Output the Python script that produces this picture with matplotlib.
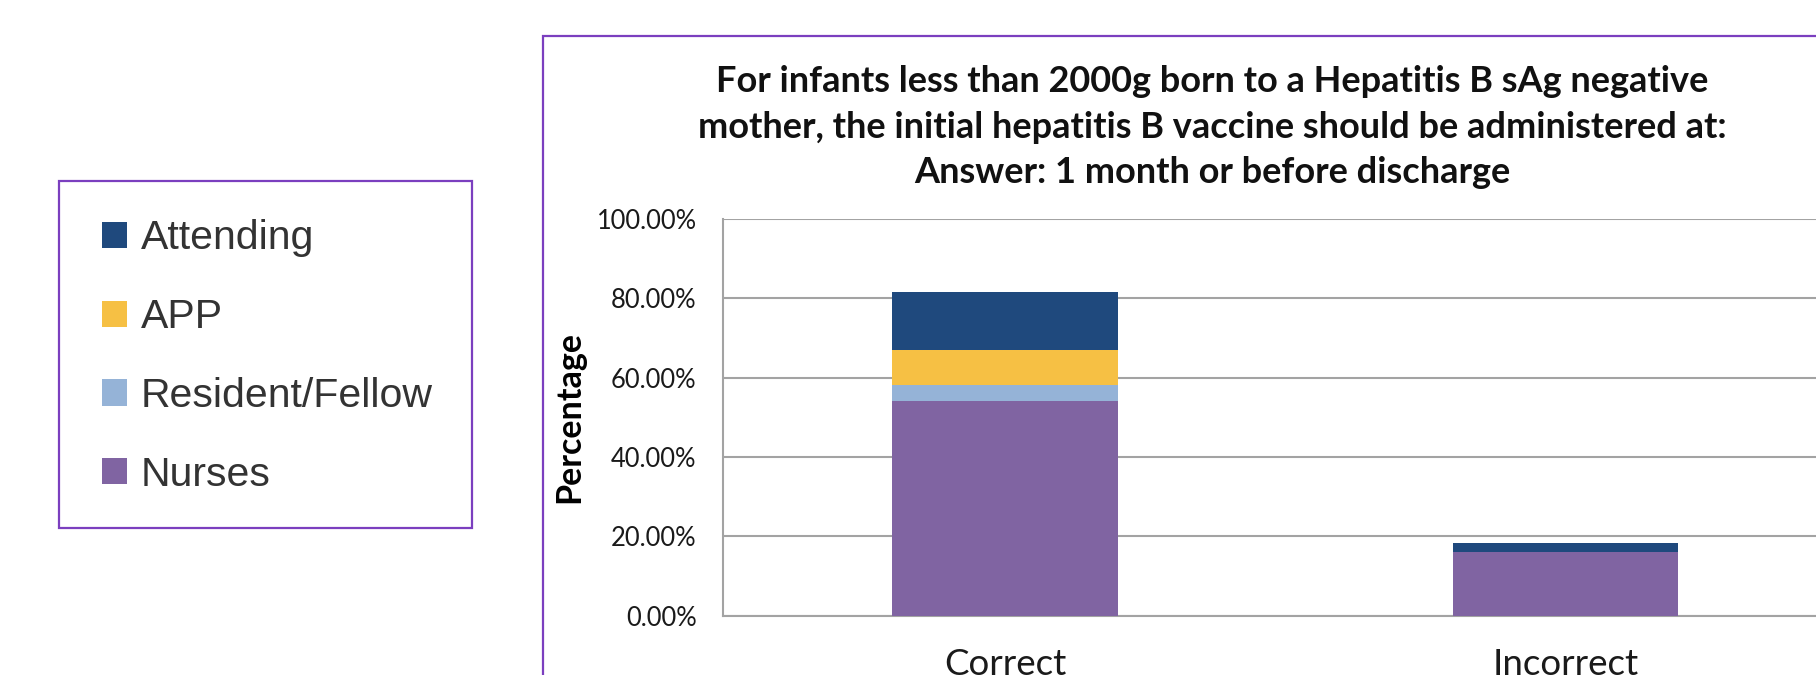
import matplotlib
matplotlib.use("Agg")
import matplotlib.pyplot as plt
from matplotlib.patches import Rectangle, Patch
from matplotlib.ticker import FuncFormatter, MultipleLocator

# Survey responses, percent of all respondents
categories = ["Correct", "Incorrect"]
nurses = [54.2, 16.0]
resident_fellow = [3.9, 0.0]
app = [9.0, 0.0]
attending = [14.6, 2.3]

series_names = ["Nurses", "Resident/Fellow", "APP", "Attending"]
series_values = [nurses, resident_fellow, app, attending]
series_colors = ["#8064A2", "#95B3D7", "#F6C044", "#1F497D"]

title_lines = [
    "For infants less than 2000g born to a Hepatitis B sAg negative",
    "mother, the initial hepatitis B vaccine should be administered at:",
    "Answer: 1 month or before discharge",
]

W, H = 1816, 675
fig = plt.figure(figsize=(W / 100, H / 100), dpi=100)
fig.patch.set_facecolor("white")


def fx(px):
    return px / W


def fy(py):
    return 1 - py / H


purple = "#7B3FBF"
grid_gray = "#A3A3A3"

# chart frame
fig.add_artist(Rectangle((fx(543), fy(690)), fx(1300), fy(36) - fy(690),
                         transform=fig.transFigure, fill=False,
                         edgecolor=purple, linewidth=1.6))

# plot area
ax_left, ax_right, ax_top, ax_bottom = 723, 1816, 219, 615.7
ax = fig.add_axes([fx(ax_left), fy(ax_bottom),
                   fx(ax_right - ax_left), fy(ax_top) - fy(ax_bottom)])

x = list(range(len(categories)))
bottom = [0.0] * len(categories)
for name, vals, color in zip(series_names, series_values, series_colors):
    ax.bar(x, vals, width=0.403, bottom=bottom, color=color, label=name,
           edgecolor="none", zorder=3)
    bottom = [b + v for b, v in zip(bottom, vals)]

ax.set_xlim(-0.503, 1.447)
ax.set_ylim(0, 100)
ax.yaxis.set_major_locator(MultipleLocator(20))
ax.yaxis.set_major_formatter(FuncFormatter(lambda v, _: f"{v:.2f}%"))
ax.grid(axis="y", color=grid_gray, linewidth=1.5, zorder=0)
ax.set_axisbelow(True)
for side in ["top", "right"]:
    ax.spines[side].set_visible(False)
for side in ["left", "bottom"]:
    ax.spines[side].set_color(grid_gray)
    ax.spines[side].set_linewidth(1.5)
ax.tick_params(axis="both", length=0)
ax.tick_params(axis="y", pad=19, labelsize=18.4, labelcolor="#1a1a1a")
ax.tick_params(axis="x", pad=23, labelsize=26.5, labelcolor="#1a1a1a")
ax.set_xticks(x)
ax.set_xticklabels(categories)
for lbl in ax.get_yticklabels() + ax.get_xticklabels():
    lbl.set_fontfamily("Lato")

ax.set_ylabel("Percentage", fontsize=24.5, fontweight="bold", family="Lato",
              labelpad=0)
ax.yaxis.set_label_coords(fx(585 - ax_left) / fx(ax_right - ax_left), 0.5)

fig.text(fx(1212), fy(127), "\n".join(title_lines), ha="center", va="center",
         fontsize=26, fontweight="bold", family="Lato", linespacing=1.48,
         color="#111111")

# legend box
fig.add_artist(Rectangle((fx(59), fy(528)), fx(472 - 59), fy(181) - fy(528),
                         transform=fig.transFigure, fill=False,
                         edgecolor=purple, linewidth=1.6))
handles = [Patch(facecolor=c, edgecolor="none", label=n)
           for n, c in zip(series_names[::-1], series_colors[::-1])]
fig.legend(handles=handles, loc="upper left",
           bbox_to_anchor=(fx(102), fy(219)), frameon=False,
           prop={"family": "Liberation Sans", "size": 29.5},
           labelcolor="#333333", handlelength=0.6, handleheight=0.6,
           handletextpad=0.35, labelspacing=1.0, borderaxespad=0,
           borderpad=0)

fig.savefig("out.png", dpi=100, facecolor="white")
